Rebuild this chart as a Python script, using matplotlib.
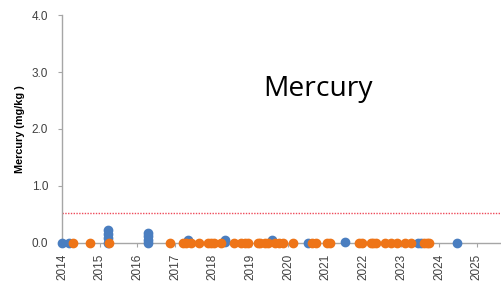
import matplotlib
matplotlib.use("Agg")
import matplotlib.pyplot as plt

# Blue series (date in decimal years, mercury mg/kg)
blue_x = [2014.0, 2014.18,
          2015.21, 2015.21, 2015.21, 2015.21,
          2016.29, 2016.29, 2016.29, 2016.29,
          2017.33, 2018.33, 2018.33, 2019.56,
          2020.53, 2021.51, 2023.45, 2023.52, 2024.47]
blue_y = [0.0, 0.0,
          0.22, 0.15, 0.08, 0.0,
          0.17, 0.11, 0.05, 0.0,
          0.04, 0.04, 0.01, 0.04,
          0.0, 0.01, 0.0, 0.0, 0.0]

# Orange series
orange_x = [2014.28, 2014.73, 2015.24, 2016.86, 2017.2, 2017.28, 2017.41, 2017.63,
            2017.86, 2017.94, 2018.02, 2018.21, 2018.56, 2018.74, 2018.85, 2018.94,
            2019.2, 2019.25, 2019.38, 2019.47, 2019.65, 2019.76, 2019.87, 2020.14,
            2020.62, 2020.74, 2021.04, 2021.11, 2021.89, 2021.95, 2022.19, 2022.26,
            2022.32, 2022.57, 2022.73, 2022.89, 2023.1, 2023.26, 2023.61, 2023.67, 2023.74]
orange_y = [0.0] * len(orange_x)

threshold = 0.52
x_ticks = list(range(2014, 2026))
y_ticks = [0.0, 1.0, 2.0, 3.0, 4.0]

fig = plt.figure(figsize=(5.02, 2.83), dpi=100)
ax = fig.add_axes([62/502, 1 - 242.5/283, 1 - 62/502, (242.5 - 15.3)/283])

ax.axhline(threshold, color="#EE4A5A", linestyle=(0, (1, 1)), linewidth=1.0, zorder=1)
ax.plot(blue_x, blue_y, linestyle="none", marker="o", markersize=6,
        color="#4A7EC0", zorder=3, clip_on=False)
ax.plot(orange_x, orange_y, linestyle="none", marker="o", markersize=6,
        color="#EE7417", zorder=4, clip_on=False)

ax.set_xlim(2014, 2025.67)
ax.set_ylim(0, 4.0)
ax.set_xticks(x_ticks)
ax.set_xticklabels([str(t) for t in x_ticks], rotation=90, fontsize=8.5,
                   family="Liberation Sans", color="#404040")
ax.set_yticks(y_ticks)
ax.set_yticklabels([f"{t:.1f}" for t in y_ticks], fontsize=8.5,
                   family="Liberation Sans", color="#404040")
for s in ["top", "right"]:
    ax.spines[s].set_visible(False)
for s in ["left", "bottom"]:
    ax.spines[s].set_color("#A6A6A6")
    ax.spines[s].set_linewidth(1.0)
ax.tick_params(axis="y", direction="out", length=3, width=0.8, color="#A6A6A6", pad=7)
ax.tick_params(axis="x", direction="out", length=3, width=0.8, color="#A6A6A6", pad=5)

ax.set_ylabel("Mercury (mg/kg )", fontsize=7.8, fontweight="bold",
              family="Liberation Sans")
ax.yaxis.set_label_coords(-0.085, 0.5)

fig.text(263/502, 1 - 96/283, "Mercury", fontsize=20.3, family="Open Sans",
         ha="left", va="baseline", color="black")

fig.savefig("out.png", dpi=100)
